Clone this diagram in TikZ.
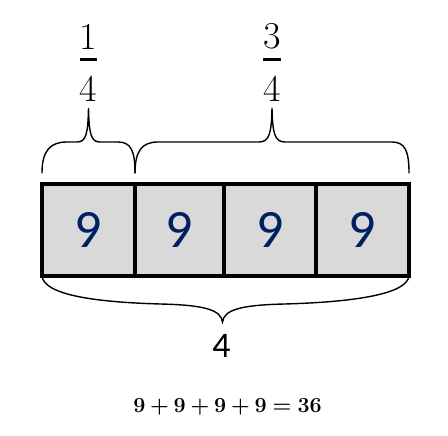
\RequirePackage{fix-cm}
\documentclass[tikz,border=0pt]{standalone}
\usepackage{fontspec}
\newfontfamily\carlito{Carlito}
\usepackage{tikz}
\definecolor{cellgray}{HTML}{D9D9D9}
\definecolor{navy}{HTML}{002060}

\tikzset{
    cell/.style={draw, fill=cellgray, line width=4pt, outer sep=0pt, minimum height=92pt,
        inner sep=0pt, font=\carlito\fontsize{54}{54}\selectfont, text=navy},
    brace/.style={line width=1.4pt, line cap=round},
    fraclabel/.style={anchor=base, inner sep=0pt, font=\fontsize{38}{38}\selectfont}
}

\begin{document}
\begin{tikzpicture}[x=1pt, y=1pt]
\useasboundingbox (0, 0) rectangle (448, 436);
% the four cells
\foreach \i/\xa/\xb in {1/42/135, 2/135/224, 3/224/316, 4/316/409}
    \node[cell, minimum width=\xb-\xa] (c\i) at ({(\xa+\xb)/2}, 206) {9};
% braces on top
\draw[brace] (42, 263) .. controls (42, 285) and (50, 294) .. (67, 294) -- (77, 294)
    .. controls (86, 294) and (88, 302) .. (88.5, 328)
    .. controls (89, 302) and (91, 294) .. (100, 294) -- (118, 294)
    .. controls (131, 294) and (135, 285) .. (135, 263);
\draw[brace] (135, 263) .. controls (135, 285) and (142, 294) .. (158, 294) -- (259, 294)
    .. controls (269, 294) and (271.5, 302) .. (272, 328)
    .. controls (272.5, 302) and (275, 294) .. (285, 294) -- (392, 294)
    .. controls (405, 294) and (409, 285) .. (409, 263);
\node[fraclabel] (f1) at (88.5, 366.5) {$\displaystyle{\raisebox{-6pt}{1}\above 3pt \raisebox{-6pt}{4}}$};
\node[fraclabel] (f2) at (272, 366.5) {$\displaystyle{\raisebox{-6pt}{3}\above 3pt \raisebox{-6pt}{4}}$};
% brace below
\draw[brace] (42, 160) .. controls (44, 142) and (90, 134) .. (160, 132)
    .. controls (205, 131) and (221, 126) .. (222.5, 114)
    .. controls (224, 126) and (240, 131) .. (285, 132)
    .. controls (355, 134) and (407, 142) .. (409, 160);
\node[anchor=base, inner sep=0pt, font=\carlito\fontsize{36}{36}\selectfont] (whole) at (221.5, 78) {4};
\node[anchor=base, inner sep=0pt, font=\fontsize{21.5}{21.5}\selectfont\bfseries] (product) at (227.5, 23)
    {9\hspace{0.222em}+\hspace{0.222em}9\hspace{0.222em}+\hspace{0.222em}9\hspace{0.222em}+\hspace{0.222em}9\hspace{0.278em}=\hspace{0.278em}36};
\end{tikzpicture}
\end{document}
